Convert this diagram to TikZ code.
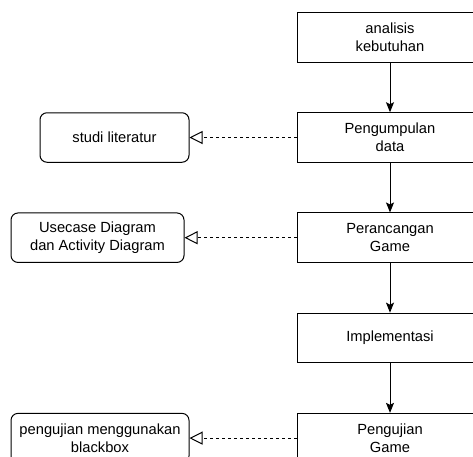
\documentclass[tikz,border=0pt]{standalone}
\usepackage{fontspec}
\setmainfont{Liberation Sans}
\usetikzlibrary{arrows.meta, positioning}

\tikzset{
    tahap/.style={draw, line width=1pt, minimum width=186pt, minimum height=49.5pt,
        align=center, inner sep=2pt, font=\fontsize{14.7}{18}\selectfont},
    hasil/.style={draw, line width=1pt, rounded corners=7pt, minimum height=49.5pt,
        align=center, inner sep=2pt, font=\fontsize{14.7}{18}\selectfont},
    alur/.style={-{Stealth[length=10pt, width=8pt, inset=2pt]}, line width=1pt},
    realisasi/.style={-{Triangle[open, length=13pt, width=13pt]}, line width=1pt,
        dash pattern=on 3pt off 3pt}
}

\begin{document}
\begin{tikzpicture}[x=1pt, y=-1pt, node distance=49.7pt]
    % Bingkai gambar (bagian kanan dan bawah terpotong)
    \useasboundingbox (0,0) rectangle (473,456);
    \clip (0,0) rectangle (473,456);

    % Tahapan utama
    \node[tahap] (analisis) at (390,37.3) {analisis\\kebutuhan};
    \node[tahap, below=of analisis] (pengumpulan) {Pengumpulan\\data};
    \node[tahap, below=of pengumpulan] (perancangan) {Perancangan\\Game};
    \node[tahap, below=of perancangan] (implementasi) {Implementasi};
    \node[tahap, below=of implementasi] (pengujian) {Pengujian\\Game};

    % Hasil tiap tahap
    \node[hasil, minimum width=149pt, left=107pt of pengumpulan] (studi) {studi literatur};
    \node[hasil, minimum width=173pt, left=112pt of perancangan] (diagram) {Usecase Diagram\\dan Activity Diagram};
    \node[hasil, minimum width=178pt, left=107pt of pengujian] (blackbox) {pengujian menggunakan\\blackbox};

    % Alur
    \draw[alur] (analisis) -- (pengumpulan);
    \draw[alur] (pengumpulan) -- (perancangan);
    \draw[alur] (perancangan) -- (implementasi);
    \draw[alur] (implementasi) -- (pengujian);

    % Hubungan ke hasil
    \draw[realisasi] (pengumpulan) -- (studi);
    \draw[realisasi] (perancangan) -- (diagram);
    \draw[realisasi] (pengujian) -- (blackbox);
\end{tikzpicture}
\end{document}
